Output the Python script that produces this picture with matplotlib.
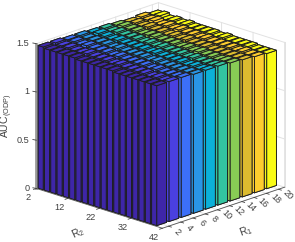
import matplotlib
matplotlib.use('Agg')
import matplotlib.pyplot as plt
from mpl_toolkits.mplot3d import proj3d

plt.rcParams['font.family'] = ['Liberation Sans', 'DejaVu Sans']
plt.rcParams['mathtext.default'] = 'regular'

# bar heights: one row per R2, one value per R1
r1_values = [2, 4, 6, 8, 10, 12, 14, 16, 18, 20]
r2_values = [2, 4, 6, 8, 10, 12, 14, 16, 18, 20, 22, 24, 26, 28, 30, 32, 34, 36, 38]
auc_rows = [
    [1.48, 1.48, 1.47, 1.47, 1.46, 1.46, 1.45, 1.44, 1.45, 1.43],
    [1.47, 1.47, 1.47, 1.46, 1.47, 1.45, 1.46, 1.45, 1.44, 1.44],
    [1.47, 1.47, 1.46, 1.46, 1.46, 1.46, 1.45, 1.44, 1.45, 1.42],
    [1.47, 1.46, 1.47, 1.46, 1.45, 1.45, 1.45, 1.45, 1.43, 1.43],
    [1.47, 1.46, 1.46, 1.46, 1.46, 1.45, 1.44, 1.44, 1.44, 1.42],
    [1.47, 1.47, 1.46, 1.45, 1.45, 1.45, 1.45, 1.44, 1.43, 1.43],
    [1.46, 1.46, 1.46, 1.46, 1.45, 1.44, 1.45, 1.43, 1.44, 1.42],
    [1.46, 1.46, 1.45, 1.45, 1.45, 1.45, 1.44, 1.44, 1.43, 1.42],
    [1.46, 1.46, 1.46, 1.45, 1.45, 1.44, 1.44, 1.43, 1.43, 1.42],
    [1.46, 1.45, 1.45, 1.45, 1.44, 1.45, 1.44, 1.44, 1.42, 1.42],
    [1.46, 1.46, 1.45, 1.45, 1.45, 1.44, 1.43, 1.43, 1.43, 1.41],
    [1.46, 1.45, 1.45, 1.44, 1.44, 1.44, 1.44, 1.43, 1.42, 1.42],
    [1.45, 1.45, 1.45, 1.45, 1.44, 1.44, 1.43, 1.43, 1.42, 1.41],
    [1.45, 1.45, 1.44, 1.44, 1.44, 1.43, 1.44, 1.42, 1.42, 1.41],
    [1.45, 1.45, 1.45, 1.44, 1.44, 1.44, 1.43, 1.42, 1.42, 1.41],
    [1.45, 1.44, 1.44, 1.44, 1.43, 1.43, 1.43, 1.42, 1.41, 1.41],
    [1.45, 1.45, 1.44, 1.44, 1.44, 1.43, 1.42, 1.42, 1.42, 1.40],
    [1.45, 1.44, 1.44, 1.44, 1.43, 1.43, 1.43, 1.42, 1.41, 1.40],
    [1.45, 1.45, 1.45, 1.44, 1.44, 1.44, 1.43, 1.42, 1.41, 1.40],
]
column_colors = ['#3e26a8', '#4a40e0', '#3c6ff8', '#2a95e5', '#0cb0d8',
                 '#33c5a0', '#88cc55', '#dcbb2f', '#fdcd2f', '#f9fb15']

r2_ticks = [2, 12, 22, 32, 42]
r1_ticks = r1_values
z_ticks = [0, 0.5, 1, 1.5]
z_tick_labels = ['0', '0.5', '1', '1.5']

text_color = '#404040'
grid_color = '#e2e2e2'

fig = plt.figure(figsize=(2.95, 2.42), dpi=100)
side = 300
ax = fig.add_axes([6.4 / 295, (-27.5) / 242, side / 295, side / 242], projection='3d')
ax.set_proj_type('ortho')
ax.view_init(elev=19, azim=-45.9)
ax.set_box_aspect((1, 1, 0.872), zoom=0.944)
ax.set_xlim(2, 42, view_margin=0)
ax.set_ylim(1, 21, view_margin=0)
ax.set_zlim(0, 1.5, view_margin=0)
ax.set_axis_off()
ax.computed_zorder = False

# back walls and floor grid
for z in z_ticks:
    ax.plot([2, 2, 42], [1, 21, 21], [z, z, z], color=grid_color, lw=0.7, zorder=1)
for x in r2_ticks:
    ax.plot([x, x, x], [1, 21, 21], [0, 0, 1.5], color=grid_color, lw=0.7, zorder=1)
for y in r1_ticks:
    ax.plot([2, 2, 42], [y, y, y], [1.5, 0, 0], color=grid_color, lw=0.7, zorder=1)
ax.plot([42, 42], [21, 21], [0, 1.5], color=grid_color, lw=0.7, zorder=1)
ax.plot([2, 2], [1, 1], [0, 1.5], color='#9a9a9a', lw=2.0, zorder=1)

# bars, back to front
order = 2
for i, r2 in enumerate(r2_values):
    for j in range(len(r1_values) - 1, -1, -1):
        ax.bar3d(r2 + 0.2, r1_values[j] - 0.8, 0, 1.6, 1.6, auc_rows[i][j],
                 color=column_colors[j], shade=False, edgecolor='#1e1e1e',
                 linewidth=0.65, zorder=order)
        order += 1

# floor axis lines and ticks
ax.plot([2, 42, 42], [1, 1, 21], [0, 0, 0], color='#555555', lw=0.6, zorder=order)
order += 1


def label_at(x, y, z, text, dx, dy, **kw):
    px, py, _ = proj3d.proj_transform(x, y, z, ax.get_proj())
    ax.annotate(text, xy=(px, py), xycoords='data', xytext=(dx, dy), textcoords='offset pixels',
                fontsize=6.6, color=text_color, annotation_clip=False, va='center', **kw)


for x in r2_ticks:
    ax.plot([x, x], [1, 0.55], [0, 0], color='#404040', lw=0.6, zorder=order)
    label_at(x, 1, 0, str(x), -8.5, -9.5, ha='center')
for y in r1_ticks:
    ax.plot([42, 42.9], [y, y], [0, 0], color='#404040', lw=0.6, zorder=order)
    label_at(42, y, 0, str(y), 9, -5.5, ha='center', rotation=-45)
for z, lab in zip(z_ticks, z_tick_labels):
    ax.plot([2, 1.1], [1, 0.9], [z, z], color='#404040', lw=0.6, zorder=order)
    label_at(2, 1, z, lab, -7, 0, ha='right')

fig.text(78 / 295, 1 - 233 / 242, 'R$_2$', fontsize=7.5, color=text_color, rotation=25,
         ha='center', va='center')
fig.text(246 / 295, 1 - 231 / 242, 'R$_1$', fontsize=7.5, color=text_color, rotation=20,
         ha='center', va='center')
fig.text(7 / 295, 1 - 116 / 242, 'AUC$_{(ODP)}$', fontsize=7.5, color=text_color, rotation=90,
         ha='center', va='center')

fig.savefig('out.png', dpi=100)
